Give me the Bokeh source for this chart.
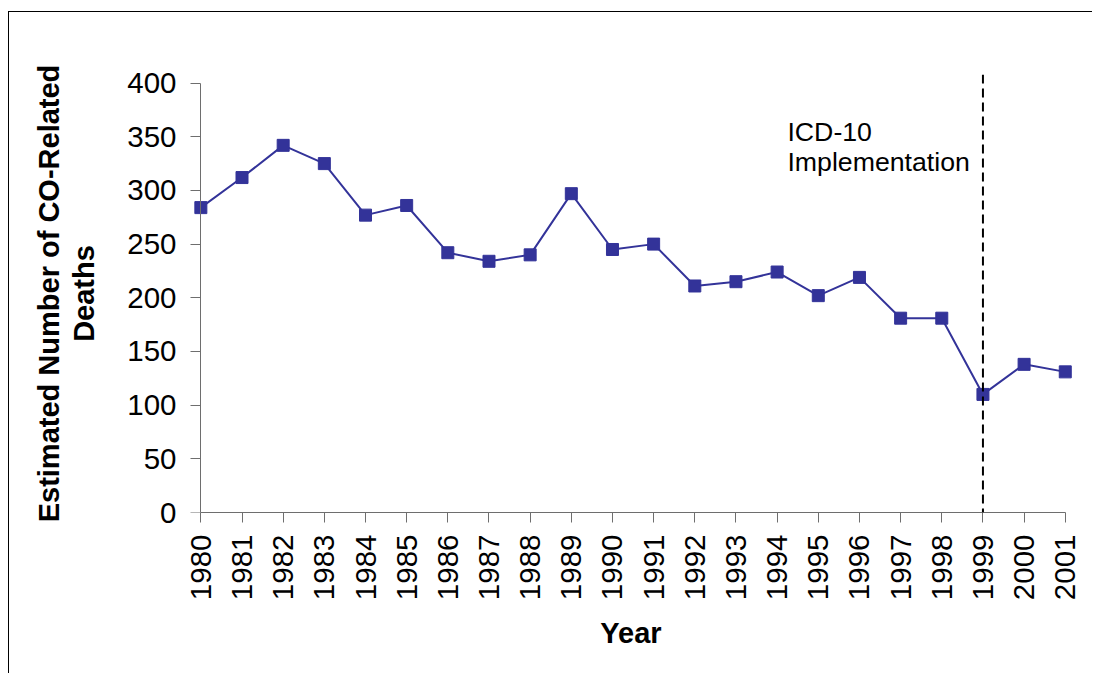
import math
from bokeh.plotting import figure
from bokeh.models import Range1d, FixedTicker, Span, Label, ColumnDataSource, LinearAxis
from bokeh.embed import file_html
from bokeh.resources import INLINE

years = list(range(1980, 2002))
deaths = [284, 312, 342, 325, 277, 286, 242, 234, 240, 297, 245,
          250, 211, 215, 224, 202, 219, 181, 181, 110, 138, 131]
y_ticks = [0, 50, 100, 150, 200, 250, 300, 350, 400]
icd_year = 1999
icd_text = "ICD-10\nImplementation"
x_title = "Year"
y_title = "Estimated Number of CO-Related\nDeaths"

FONT = "Liberation Sans"
NAVY = "#333399"
AXIS = "#6e6e6e"

src = ColumnDataSource(dict(year=years, deaths=deaths))

p = figure(width=1084, height=662, output_backend="svg", toolbar_location=None,
           x_range=Range1d(1979.7, 2001.2), y_range=Range1d(0, 408),
           min_border_left=179, min_border_right=20, min_border_top=62, min_border_bottom=162,
           y_axis_location=None)
p.margin = (11, 0, 0, 8)
p.styles = {"border-left": "1px solid black", "border-top": "1px solid black"}
p.outline_line_color = None
p.grid.visible = False
p.background_fill_color = "white"
p.border_fill_color = "white"

# x axis
p.xaxis.ticker = FixedTicker(ticks=years)
p.xaxis.bounds = (years[0], years[-1])
p.xaxis.major_label_orientation = math.pi / 2
p.xaxis.major_label_standoff = 12
p.xaxis.axis_label = x_title
p.xaxis.axis_label_standoff = 14
p.xaxis.axis_line_color = AXIS
p.xaxis.major_tick_line_color = AXIS
p.xaxis.major_tick_out = 10
p.xaxis.major_tick_in = 0
p.xaxis.minor_tick_line_color = None

# y axis: labels (at frame edge) + rule/ticks (at the first year)
ylab = LinearAxis(ticker=FixedTicker(ticks=y_ticks), axis_label=y_title,
                  axis_line_color=None, major_tick_line_color=None,
                  minor_tick_line_color=None, major_tick_out=0, major_tick_in=0,
                  major_label_standoff=12, axis_label_standoff=24)
yrule = LinearAxis(ticker=FixedTicker(ticks=y_ticks), bounds=(y_ticks[0], y_ticks[-1]),
                   fixed_location=years[0], axis_line_color=AXIS,
                   major_tick_line_color=AXIS, minor_tick_line_color=None,
                   major_tick_out=10, major_tick_in=0, major_label_text_font_size="0px",
                   major_label_text_color=None)
p.add_layout(ylab, "left")
p.add_layout(yrule, "left")

for ax in (p.xaxis[0], ylab):
    ax.major_label_text_font = FONT
    ax.major_label_text_font_size = "29.5px"
    ax.major_label_text_color = "black"
    ax.axis_label_text_font = FONT
    ax.axis_label_text_font_size = "29px"
    ax.axis_label_text_font_style = "bold"
    ax.axis_label_text_color = "black"
ylab.axis_label_text_line_height = 1.1

# ICD-10 dashed line
p.add_layout(Span(location=icd_year, dimension="height", line_color="black",
                  line_width=2, line_dash="9 5"))

p.line("year", "deaths", source=src, line_color=NAVY, line_width=2)
p.scatter("year", "deaths", source=src, marker="square", size=12,
          fill_color=NAVY, line_color=NAVY)

p.add_layout(Label(x=1994.25, y=368, text=icd_text, text_font=FONT,
                   text_font_size="26.7px", text_color="black",
                   text_baseline="top", text_align="left", text_line_height=0.99))

open("out.html", "w").write(file_html(p, INLINE))
